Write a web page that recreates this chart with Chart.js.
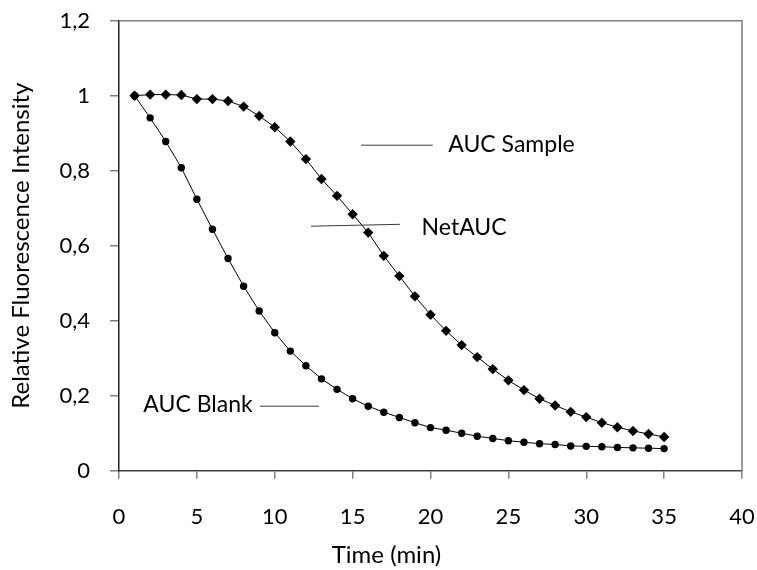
<!DOCTYPE html>
<html>
<head>
<meta charset="utf-8">
<script src="https://cdn.jsdelivr.net/npm/chart.js@4.4.1/dist/chart.umd.min.js"></script>
<style>
  html, body { margin: 0; padding: 0; background: #fff; }
  #wrap { width: 757px; height: 570px; }
</style>
</head>
<body>
<div id="wrap"><canvas id="orac-chart"></canvas></div>
<script>
// ---------------------------------------------------
// DATA
// ---------------------------------------------------
const timeMin = [ 1, 2, 3, 4, 5, 6, 7, 8, 9, 10, 11, 12, 13, 14, 15, 16, 17, 18,
                  19, 20, 21, 22, 23, 24, 25, 26, 27, 28, 29, 30, 31, 32, 33, 34, 35 ];
const sampleValues = [ 1.000, 1.003, 1.003, 1.002, 0.991, 0.991, 0.986, 0.971, 0.946, 0.916,
                       0.878, 0.831, 0.778, 0.733, 0.684, 0.635, 0.573, 0.519, 0.465, 0.416,
                       0.373, 0.335, 0.303, 0.271, 0.241, 0.215, 0.192, 0.174, 0.157, 0.143,
                       0.128, 0.116, 0.106, 0.098, 0.090 ];
const blankValues = [ 1.000, 0.941, 0.878, 0.808, 0.724, 0.644, 0.566, 0.492, 0.426, 0.368,
                      0.319, 0.280, 0.245, 0.217, 0.192, 0.172, 0.156, 0.142, 0.128, 0.115,
                      0.108, 0.100, 0.092, 0.086, 0.080, 0.076, 0.072, 0.070, 0.066, 0.065,
                      0.064, 0.062, 0.061, 0.060, 0.059 ];
const xTicks = [ 0, 5, 10, 15, 20, 25, 30, 35, 40 ];
const yTicks = [ 0, 0.2, 0.4, 0.6, 0.8, 1, 1.2 ];
const noteTexts = [ 'AUC Sample', 'NetAUC', 'AUC Blank' ];
const xTitle = 'Time (min)';
const yTitle = 'Relative Fluorescence Intensity';
// ---------------------------------------------------
// annotation placement, in data units
const notePlaces = [
    { tx: 21.14, ty: 0.870, x0: 15.54, y0: 0.868, x1: 20.14, y1: 0.868 },
    { tx: 19.43, ty: 0.647, x0: 12.33, y0: 0.652, x1: 18.04, y1: 0.657 },
    { tx: 1.56,  ty: 0.175, x0: 9.05,  y0: 0.172, x1: 12.84, y1: 0.172 }
];
const FONT = 'Lato, "Noto Sans", sans-serif';
// ---------------------------------------------------
const fmtComma = function ( v ) {
    return String( Math.round( v * 10 ) / 10 ).replace( '.', ',' );
};
// ---------------------------------------------------
// PLUGIN: frame on top/right, x title and the text notes
// ---------------------------------------------------
const notesPlugin = {
    id: 'notes',
    afterDatasetsDraw( chart ) {
        const { ctx, chartArea: a, scales: { x, y } } = chart;
        ctx.save();
        ctx.strokeStyle = '#7f7f7f';
        ctx.lineWidth = 1.5;
        ctx.beginPath();
        ctx.moveTo( a.left, a.top );
        ctx.lineTo( a.right, a.top );
        ctx.lineTo( a.right, a.bottom );
        ctx.stroke();

        ctx.strokeStyle = '#3a3a3a';
        ctx.lineWidth = 1;
        ctx.fillStyle = '#000';
        ctx.font = '23px ' + FONT;
        ctx.textAlign = 'left';
        ctx.textBaseline = 'middle';
        notePlaces.forEach( function ( p, i ) {
            ctx.beginPath();
            ctx.moveTo( x.getPixelForValue( p.x0 ), y.getPixelForValue( p.y0 ) );
            ctx.lineTo( x.getPixelForValue( p.x1 ), y.getPixelForValue( p.y1 ) );
            ctx.stroke();
            ctx.fillText( noteTexts[ i ], x.getPixelForValue( p.tx ), y.getPixelForValue( p.ty ) );
        });

        // x axis title sits near the middle of the whole picture
        ctx.font = '24px ' + FONT;
        ctx.textAlign = 'center';
        ctx.fillText( xTitle, chart.width / 2 + 8, chart.height - 15 );
        ctx.restore();
    }
};
// ---------------------------------------------------
const mkPoints = function ( vals ) {
    return timeMin.map( function ( t, i ) { return { x: t, y: vals[ i ] }; } );
};

new Chart( document.querySelector( '#orac-chart' ), {
    type: 'line',
    data: {
        datasets: [
            {
                label: 'Sample',
                data: mkPoints( sampleValues ),
                borderColor: '#000',
                backgroundColor: '#000',
                borderWidth: 1,
                pointStyle: 'rectRot',
                pointRadius: 5.2,
                pointBorderWidth: 0,
                tension: 0
            },
            {
                label: 'Blank',
                data: mkPoints( blankValues ),
                borderColor: '#000',
                backgroundColor: '#000',
                borderWidth: 1,
                pointStyle: 'circle',
                pointRadius: 3.7,
                pointBorderWidth: 0,
                tension: 0
            }
        ]
    },
    options: {
        responsive: true,
        maintainAspectRatio: false,
        animation: false,
        layout: { padding: { left: 0, right: 15, top: 20.7, bottom: 0 } },
        plugins: {
            legend: { display: false },
            tooltip: { enabled: false }
        },
        scales: {
            x: {
                type: 'linear',
                min: 0,
                max: 40,
                afterFit( s ) {
                    s.height = 99.3;
                    s.paddingLeft = 0;
                    s.paddingRight = 0;
                },
                afterBuildTicks( s ) { s.ticks = xTicks.map( function ( v ) { return { value: v }; } ); },
                border: { display: true, color: '#404040', width: 1.5 },
                grid: { drawOnChartArea: false, drawTicks: true, tickLength: 8, color: '#7f7f7f', lineWidth: 1.5 },
                ticks: { color: '#000', padding: 25, maxRotation: 0, font: { family: FONT, size: 22 } },
                title: { display: false }
            },
            y: {
                type: 'linear',
                min: 0,
                max: 1.2,
                afterFit( s ) {
                    s.width = 119;
                    s.paddingTop = 0;
                    s.paddingBottom = 0;
                },
                afterBuildTicks( s ) { s.ticks = yTicks.map( function ( v ) { return { value: v }; } ); },
                border: { display: true, color: '#202020', width: 1.5 },
                grid: { drawOnChartArea: false, drawTicks: true, tickLength: 9, color: '#7f7f7f', lineWidth: 1.5 },
                ticks: { color: '#000', padding: 20, callback: fmtComma, font: { family: FONT, size: 22 } },
                title: { display: true, text: yTitle, color: '#000',
                         padding: { top: 6.5, bottom: 0 }, font: { family: FONT, size: 24 } }
            }
        }
    },
    plugins: [ notesPlugin ]
});
// ---------------------------------------------------
</script>
</body>
</html>
